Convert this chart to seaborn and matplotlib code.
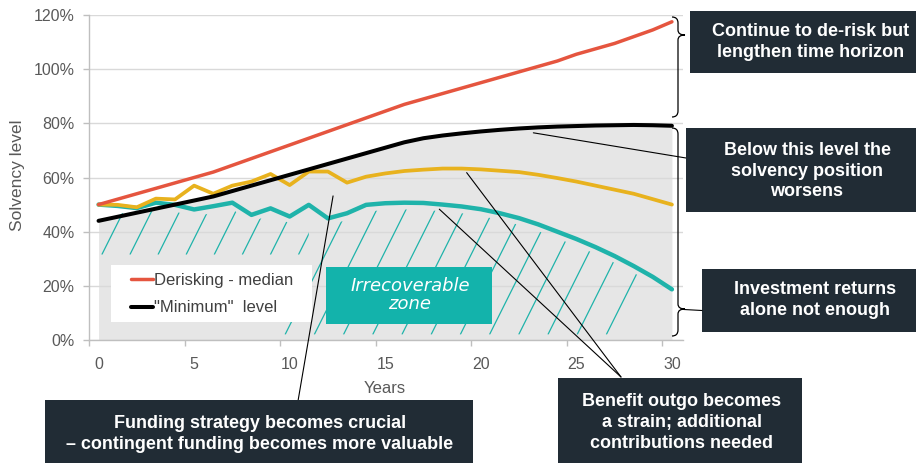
import numpy as np
import pandas as pd
import seaborn as sns
import matplotlib.pyplot as plt
from matplotlib.patches import Rectangle, Polygon, PathPatch
from matplotlib.path import Path
from matplotlib.lines import Line2D
from matplotlib.transforms import Affine2D

# ---- data -----------------------------------------------------------------
years = list(range(31))
derisking_median = [50, 52, 54, 56, 58, 60, 62, 64.5, 67, 69.5, 72, 74.5, 77, 79.5, 82,
                    84.5, 87, 89, 91, 93, 95, 97, 99, 101, 103, 105.5, 107.5, 109.5,
                    112, 114.5, 117.5]
minimum_level = [44, 45.5, 47, 48.5, 50, 51.5, 53, 55, 57, 59, 61, 63, 65, 67, 69, 71,
                 73, 74.5, 75.5, 76.3, 77, 77.6, 78.1, 78.5, 78.8, 79, 79.2, 79.3,
                 79.4, 79.3, 79.1]
adverse_path = [50, 49.9, 49, 52.2, 51.9, 57, 54, 57, 58.5, 61.3, 57.2, 62.2, 62.2, 58.1,
                60.3, 61.5, 62.4, 62.9, 63.3, 63.3, 63, 62.5, 62, 61, 59.8, 58.5, 57,
                55.5, 54, 52, 50]
severe_path = [50, 49.5, 48.7, 50.7, 49.9, 48.2, 49.4, 50.7, 46.2, 48.6, 45.6, 49.9, 44.9,
               46.8, 49.9, 50.5, 50.7, 50.6, 50, 49.3, 48.3, 46.8, 45, 42.7, 40, 37.3,
               34.3, 31, 27.3, 23.3, 18.7]
y_ticks = [0, 20, 40, 60, 80, 100, 120]
x_ticks = [0, 5, 10, 15, 20, 25, 30]
legend_labels = ["Derisking - median", '"Minimum"  level']

df = pd.DataFrame({"Years": years, "median": derisking_median, "minimum": minimum_level,
                   "adverse": adverse_path, "severe": severe_path})

# ---- style ----------------------------------------------------------------
sns.set_theme(style="white")
plt.rcParams["font.family"] = ["Liberation Sans", "DejaVu Sans"]

RED, BLACK, GOLD, TEAL = "#e5553f", "#000000", "#e8b21e", "#1fb3aa"
NAVY = "#212c35"
GREY_TXT = "#595959"

W, H = 916, 463
fig = plt.figure(figsize=(W / 100, H / 100), dpi=100)
px = Affine2D().scale(1 / W, -1 / H).translate(0, 1) + fig.transFigure

ax = fig.add_axes([89 / W, 1 - 340 / H, (683 - 89) / W, (340 - 15) / H])
ax.set_xlim(-0.5, 30.58)
ax.set_ylim(0, 120)

# shaded area under the minimum level
ax.fill_between(df["Years"], 0, df["minimum"], color="#e6e6e6", lw=0, zorder=0.2)

# hatched "irrecoverable" area under the severe path
slope = 14.11
xf = np.linspace(0, 30, 301)
upper = np.interp(xf, years, severe_path) - 2.5


def hatch_lines(clip, starts, y_start):
    for x0 in starts:
        ln, = ax.plot([x0, x0 + 6], [y_start, y_start + 6 * slope], color=TEAL,
                      lw=0.9, zorder=0.6, solid_capstyle="butt")
        ln.set_clip_path(clip)


m1 = xf <= 11.0
clip1 = Polygon(list(zip(xf[m1], upper[m1])) + [(11.0, 31.5), (0, 31.5)], closed=True,
                transform=ax.transData, fc="none", ec="none")
ax.add_patch(clip1)
hatch_lines(clip1, [0.17 + 1.47 * k for k in range(8)], 31.5)

m2 = xf >= 11.0
clip2 = Polygon(list(zip(xf[m2], upper[m2])) + [(30, 2), (9.5, 2), (9.5, 31.5), (11.0, 31.5)],
                closed=True, transform=ax.transData, fc="none", ec="none")
ax.add_patch(clip2)
hatch_lines(clip2, [9.76 + 1.528 * k for k in range(12)], 2)

# ---- lines ----------------------------------------------------------------
sns.lineplot(data=df, x="Years", y="severe", color=TEAL, lw=3.2, ax=ax, legend=False, zorder=2)
sns.lineplot(data=df, x="Years", y="adverse", color=GOLD, lw=2.7, ax=ax, legend=False, zorder=2.1)
sns.lineplot(data=df, x="Years", y="minimum", color=BLACK, lw=2.9, ax=ax, legend=False, zorder=2.2)
sns.lineplot(data=df, x="Years", y="median", color=RED, lw=2.5, ax=ax, legend=False, zorder=2.3)

# ---- axes styling ---------------------------------------------------------
ax.set_axisbelow(True)
ax.yaxis.grid(True, color="#d9d9d9", lw=1.0)
ax.xaxis.grid(False)
for s in ("top", "right"):
    ax.spines[s].set_visible(False)
for s in ("left", "bottom"):
    ax.spines[s].set_color("#bfbfbf")
    ax.spines[s].set_linewidth(1.0)

ax.set_yticks(y_ticks)
ax.set_yticklabels([f"{v}%" for v in y_ticks])
ax.set_xticks(x_ticks)
ax.set_xticklabels([str(v) for v in x_ticks])
ax.set_xticks([t - 0.5 for t in x_ticks], minor=True)
ax.tick_params(axis="y", which="major", length=4.5, width=1, color="#bfbfbf", pad=6,
               labelsize=11.5, labelcolor=GREY_TXT, left=True)
ax.tick_params(axis="x", which="major", length=0, pad=12, labelsize=11.5, labelcolor=GREY_TXT)
ax.tick_params(axis="x", which="minor", length=4.5, width=1, color="#bfbfbf", bottom=True)

ax.set_xlabel("Years", fontsize=12, color=GREY_TXT)
ax.xaxis.set_label_coords((385 - 89) / 594, (340 - 381) / 325)
ax.set_ylabel("")
fig.text(18, 175, "Solvency level", transform=px, rotation=90, ha="center", va="center",
         fontsize=12.5, color=GREY_TXT)

# ---- legend ---------------------------------------------------------------
ax.add_patch(Rectangle((111, 265), 201, 57, transform=px, fc="white", ec="none", zorder=3))
handles = [Line2D([], [], color=RED, lw=2.5), Line2D([], [], color=BLACK, lw=2.9)]
leg = ax.legend(handles, legend_labels, loc="upper left", frameon=False,
                bbox_to_anchor=(131 / W, 1 - 273 / H), bbox_transform=fig.transFigure,
                borderpad=0, borderaxespad=0, handlelength=1.3, handletextpad=0.1,
                labelspacing=0.75, fontsize=12, labelcolor="#404040")
leg.set_zorder(4)

# ---- irrecoverable zone label ---------------------------------------------
ax.add_patch(Rectangle((326, 267), 166, 57, transform=px, fc="#13b3ab", ec="none", zorder=3))
ax.text(410, 295, "Irrecoverable\nzone", transform=px, ha="center", va="center",
        color="white", fontsize=13, style="italic", family=["DejaVu Sans"],
        linespacing=1.0, zorder=4)

# ---- call-out boxes -------------------------------------------------------
boxes = [
    ((690, 11, 240, 62), (811, 42), "Continue to de-risk but\nlengthen time horizon"),
    ((686, 128, 240, 84), (807, 171), "Below this level the\nsolvency position\nworsens"),
    ((702, 269, 230, 63), (815, 300), "Investment returns\nalone not enough"),
    ((45, 400, 428, 70), (260, 434), "Funding strategy becomes crucial\n– contingent funding becomes more valuable"),
    ((558, 378, 244, 90), (682, 422.5), "Benefit outgo becomes\na strain; additional\ncontributions needed"),
]
for (bx, by, bw, bh), (tx, ty), txt in boxes:
    fig.patches.append(Rectangle((bx, by), bw, bh, transform=px, fc=NAVY, ec="none",
                                 zorder=5, figure=fig))
    fig.text(tx, ty, txt, transform=px, ha="center", va="center", color="white",
             fontsize=13, fontweight="bold", linespacing=1.3, zorder=6)

# ---- leader lines ---------------------------------------------------------
def leader(xy_data, xy_px):
    ax.annotate("", xy=xy_data, xycoords="data",
                xytext=(xy_px[0] / W, 1 - xy_px[1] / H), textcoords="figure fraction",
                arrowprops=dict(arrowstyle="-", color="black", lw=0.8, shrinkA=0, shrinkB=0),
                annotation_clip=False, zorder=7)


leader((12.27, 53.2), (298, 401))
leader((22.75, 76.5), (686, 158))
leader((19.26, 61.8), (621, 377))
leader((17.83, 48.3), (621, 377))

# ---- braces ---------------------------------------------------------------
def brace(top, bottom, notch, x0=672, xs=678, tip=685):
    verts = [(x0, top), (xs, top), (xs, top + 6), (xs, notch - 5), (xs, notch), (tip, notch),
             (xs, notch), (xs, notch + 5), (xs, bottom - 6), (xs, bottom), (x0, bottom)]
    codes = [Path.MOVETO, Path.CURVE3, Path.CURVE3, Path.LINETO, Path.CURVE3, Path.CURVE3,
             Path.CURVE3, Path.CURVE3, Path.LINETO, Path.CURVE3, Path.CURVE3]
    fig.patches.append(PathPatch(Path(verts, codes), transform=px, fc="none", ec="black",
                                 lw=0.9, zorder=7, figure=fig))


brace(17, 117, 35)
brace(128, 336, 309)
fig.lines.append(Line2D([684, 702], [309.5, 310.5], transform=px, color="black", lw=0.8,
                        zorder=7, figure=fig))

fig.savefig("out.png", dpi=100)
